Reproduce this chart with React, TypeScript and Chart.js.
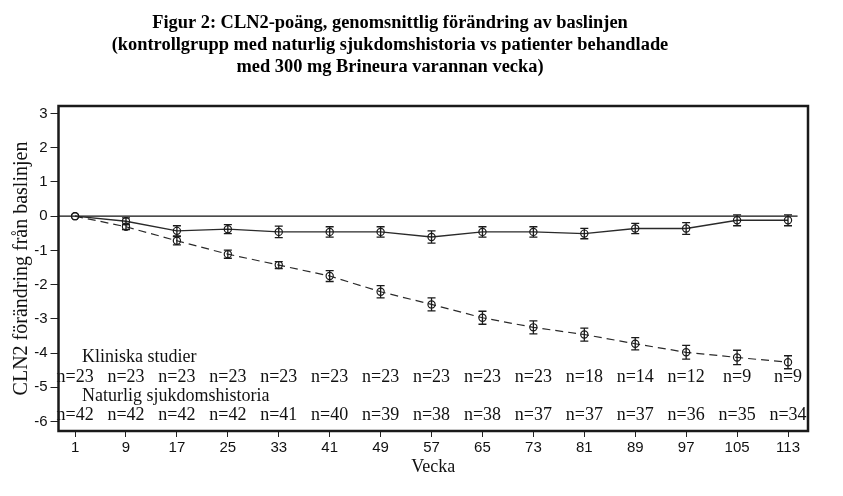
import React, { useEffect, useRef } from "react";
import { Chart, registerables } from "chart.js";

Chart.register(...registerables);

const weeks = [1, 9, 17, 25, 33, 41, 49, 57, 65, 73, 81, 89, 97, 105, 113];
const treatedMean = [0, -0.15, -0.43, -0.38, -0.46, -0.46, -0.46, -0.61, -0.46, -0.46, -0.51, -0.36, -0.36, -0.12, -0.12];
const treatedErr = [0, 0.1, 0.15, 0.13, 0.17, 0.15, 0.15, 0.18, 0.15, 0.15, 0.15, 0.15, 0.17, 0.16, 0.16];
const naturalMean = [0, -0.31, -0.72, -1.11, -1.43, -1.75, -2.21, -2.58, -2.97, -3.25, -3.46, -3.73, -3.98, -4.13, -4.27];
const naturalErr = [0, 0.08, 0.12, 0.12, 0.1, 0.16, 0.18, 0.19, 0.19, 0.19, 0.19, 0.18, 0.2, 0.21, 0.19];
const treatedN = [23, 23, 23, 23, 23, 23, 23, 23, 23, 23, 18, 14, 12, 9, 9];
const naturalN = [42, 42, 42, 42, 41, 40, 39, 38, 38, 37, 37, 37, 36, 35, 34];
const yTickValues = [3, 2, 1, 0, -1, -2, -3, -4, -5, -6];
const referenceLine = [
  { x: -1.6, y: 0 },
  { x: 114.5, y: 0 },
];
const titleLines = [
  "Figur 2: CLN2-poäng, genomsnittlig förändring av baslinjen",
  "(kontrollgrupp med naturlig sjukdomshistoria vs patienter behandlade",
  "med 300 mg Brineura varannan vecka)",
];
const treatedGroupLabel = "Kliniska studier";
const naturalGroupLabel = "Naturlig sjukdomshistoria";
const xAxisTitle = "Vecka";
const yAxisTitle = "CLN2 förändring från baslinjen";

const SERIF = "'Liberation Serif', 'Times New Roman', serif";
const SANS = "'Liberation Sans Narrow', 'Liberation Sans', Arial, sans-serif";

const customPlugin = {
  id: "custom",
  afterDatasetsDraw(chart: any) {
    const ctx = chart.ctx;
    const xs = chart.scales.x;
    const ys = chart.scales.y;
    ctx.save();
    // error bars
    const groups = [
      { mean: treatedMean, err: treatedErr },
      { mean: naturalMean, err: naturalErr },
    ];
    ctx.strokeStyle = "#1a1a1a";
    ctx.lineWidth = 1.3;
    groups.forEach((g) => {
      g.mean.forEach((m, i) => {
        const e = g.err[i];
        if (!e) return;
        const x = xs.getPixelForValue(weeks[i]);
        const y1 = ys.getPixelForValue(m + e);
        const y2 = ys.getPixelForValue(m - e);
        ctx.beginPath();
        ctx.moveTo(x, y1);
        ctx.lineTo(x, y2);
        ctx.moveTo(x - 4, y1);
        ctx.lineTo(x + 4, y1);
        ctx.moveTo(x - 4, y2);
        ctx.lineTo(x + 4, y2);
        ctx.stroke();
      });
    });
    // n labels
    ctx.fillStyle = "#111";
    ctx.font = "18px " + SERIF;
    ctx.textBaseline = "middle";
    ctx.textAlign = "left";
    const lx = xs.getPixelForValue(weeks[0]) + 7;
    ctx.fillText(treatedGroupLabel, lx, ys.getPixelForValue(-4.12));
    ctx.fillText(naturalGroupLabel, lx, ys.getPixelForValue(-5.26));
    ctx.textAlign = "center";
    weeks.forEach((w, i) => {
      const x = xs.getPixelForValue(w);
      ctx.fillText("n=" + treatedN[i], x, ys.getPixelForValue(-4.71));
      ctx.fillText("n=" + naturalN[i], x, ys.getPixelForValue(-5.82));
    });
    ctx.restore();
  },
  afterDraw(chart: any) {
    const ctx = chart.ctx;
    const area = chart.chartArea;
    ctx.save();
    ctx.strokeStyle = "#1a1a1a";
    ctx.lineWidth = 2.5;
    ctx.strokeRect(area.left, area.top, area.right - area.left, area.bottom - area.top);
    // title
    ctx.fillStyle = "#000";
    ctx.font = "bold 18.4px " + SERIF;
    ctx.textAlign = "center";
    ctx.textBaseline = "middle";
    titleLines.forEach((t, i) => {
      ctx.fillText(t, 390, 23 + i * 22);
    });
    // axis titles
    ctx.fillStyle = "#111";
    ctx.font = "18px " + SERIF;
    ctx.fillText(xAxisTitle, (area.left + area.right) / 2, 467);
    ctx.translate(22, (area.top + area.bottom) / 2);
    ctx.rotate(-Math.PI / 2);
    ctx.font = "20px " + SERIF;
    ctx.fillText(yAxisTitle, 0, 0);
    ctx.restore();
  },
};

export default function App() {
  const ref = useRef<HTMLCanvasElement | null>(null);
  useEffect(() => {
    document.body.style.margin = "0";
    const canvas = ref.current;
    if (!canvas) return;
    const chart = new Chart(canvas, {
      type: "line",
      data: {
        datasets: [
          {
            label: treatedGroupLabel,
            data: weeks.map((w, i) => ({ x: w, y: treatedMean[i] })),
            borderColor: "#2a2a2a",
            borderWidth: 1.4,
            pointStyle: "circle",
            pointRadius: 3.6,
            pointBorderColor: "#1a1a1a",
            pointBackgroundColor: "rgba(255,255,255,0)",
            pointBorderWidth: 1.2,
            fill: false,
          },
          {
            label: naturalGroupLabel,
            data: weeks.map((w, i) => ({ x: w, y: naturalMean[i] })),
            borderColor: "#2a2a2a",
            borderWidth: 1.2,
            borderDash: [8, 5],
            pointStyle: "circle",
            pointRadius: 3.6,
            pointBorderColor: "#1a1a1a",
            pointBackgroundColor: "rgba(255,255,255,0)",
            pointBorderWidth: 1.2,
            fill: false,
          },
          {
            label: "ref",
            data: referenceLine,
            borderColor: "#111",
            borderWidth: 1.2,
            pointRadius: 0,
            fill: false,
          },
        ],
      },
      options: {
        responsive: false,
        animation: false,
        layout: { padding: { top: 106, right: 35, left: 0, bottom: 0 } },
        plugins: {
          legend: { display: false },
          tooltip: { enabled: false },
          title: { display: false },
        },
        scales: {
          x: {
            type: "linear",
            min: -1.6,
            max: 116.14,
            afterBuildTicks: (scale: any) => {
              scale.ticks = weeks.map((v) => ({ value: v }));
            },
            afterFit: (scale: any) => {
              scale.height = 65;
            },
            ticks: {
              color: "#111",
              font: { family: SANS, size: 15 },
              padding: 2,
              maxRotation: 0,
              autoSkip: false,
            },
            grid: {
              drawOnChartArea: false,
              drawTicks: true,
              tickLength: 6,
              color: "#222",
              lineWidth: 1,
            },
            border: { display: false },
          },
          y: {
            type: "linear",
            min: -6.28,
            max: 3.22,
            afterBuildTicks: (scale: any) => {
              scale.ticks = yTickValues.map((v) => ({ value: v }));
            },
            afterFit: (scale: any) => {
              scale.width = 58.5;
            },
            ticks: {
              color: "#111",
              font: { family: SANS, size: 15 },
              padding: 3,
            },
            grid: {
              drawOnChartArea: false,
              drawTicks: true,
              tickLength: 8,
              color: "#222",
              lineWidth: 1,
            },
            border: { display: false },
          },
        },
      },
      plugins: [customPlugin],
    });
    return () => chart.destroy();
  }, []);
  return <canvas ref={ref} width={843} height={496} style={{ display: "block" }} />;
}
